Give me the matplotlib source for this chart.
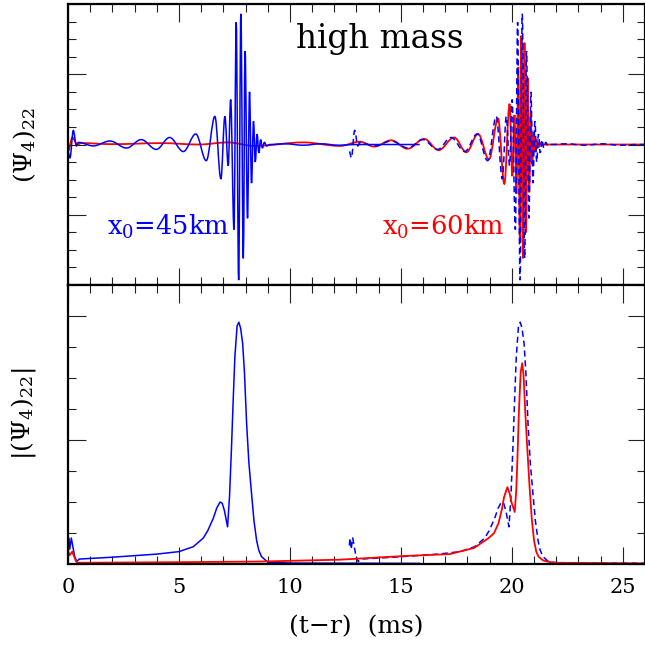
import matplotlib
matplotlib.use("Agg")
import matplotlib.pyplot as plt
from matplotlib.path import Path
from matplotlib.patches import PathPatch
from matplotlib.ticker import MultipleLocator

plt.rcParams['font.family'] = ['DejaVu Serif']
plt.rcParams['mathtext.fontset'] = 'dejavuserif'

# top panel: extrema of (Psi4)_22 (time in ms, value)
blue_t = [0.0, 0.09, 0.24, 0.38, 0.47, 1.14, 1.89, 2.64, 3.30, 3.98, 4.58, 5.20, 5.76,
          6.23, 6.62, 6.89, 7.07, 7.22, 7.33, 7.48, 7.58, 7.69, 7.79, 7.90, 7.98, 8.09,
          8.18, 8.27, 8.36, 8.44, 8.52, 8.60, 8.68, 8.76, 8.85, 8.95, 9.1, 9.8, 10.6,
          11.4, 12.2, 13.0, 15.85]
blue_y = [-0.10, -0.19, 0.20, -0.02, 0.03, -0.02, 0.05, -0.05, 0.07, -0.07, 0.10, -0.10, 0.15,
          -0.23, 0.40, -0.49, 0.40, -0.30, 0.64, -1.21, 1.74, -1.93, 1.86, -1.62, 1.33, -1.05,
          0.75, -0.55, 0.33, -0.25, 0.15, -0.12, 0.07, -0.05, 0.03, -0.02, 0.0, 0.01, -0.01,
          0.01, -0.01, 0.0, 0.0]

red_t = [0.0, 0.2, 0.42, 0.6, 2.0, 4.2, 5.9, 7.2, 8.4, 10.6, 12.25, 13.15, 13.8, 14.56,
         15.3, 16.05, 16.7, 17.4, 17.95, 18.48, 18.97, 19.38, 19.66, 19.90, 20.02, 20.12,
         20.21, 20.29, 20.36, 20.43, 20.50, 20.57, 20.64, 20.71, 20.78, 20.85, 20.92, 20.99,
         21.06, 21.13, 21.2, 21.28, 21.36, 21.5, 26.0]
red_y = [-0.10, 0.10, 0.0, 0.02, 0.005, 0.02, 0.0, 0.03, -0.02, 0.03, -0.02, 0.04, -0.03, 0.06,
         -0.06, 0.08, -0.08, 0.10, -0.11, 0.15, -0.21, 0.37, -0.56, 0.58, -0.45, 0.42,
         -0.70, 1.10, -1.40, 1.55, -1.62, 1.45, -1.25, 0.95, -0.68, 0.45, -0.28, 0.18,
         -0.11, 0.07, -0.04, 0.02, -0.01, 0.0, 0.0]

# bottom panel: amplitude |(Psi4)_22|
blue_amp_t = [0.0, 0.03, 0.08, 0.15, 0.30, 0.40, 0.50, 2.0, 4.0, 5.0, 5.65, 6.1, 6.3, 6.55,
              6.7, 6.85, 6.95, 7.05, 7.19, 7.28, 7.37, 7.45, 7.52, 7.62, 7.70, 7.78, 7.87,
              7.95, 8.05, 8.15, 8.27, 8.38, 8.5, 8.6, 8.72, 9.0, 10.0, 15.85]
blue_amp = [0.15, 0.21, 0.12, 0.21, 0.06, 0.02, 0.04, 0.055, 0.08, 0.10, 0.14, 0.21, 0.27, 0.37,
            0.45, 0.50, 0.49, 0.43, 0.30, 0.55, 0.95, 1.35, 1.67, 1.92, 1.95, 1.90, 1.78,
            1.55, 1.13, 0.82, 0.57, 0.35, 0.19, 0.11, 0.06, 0.015, 0.008, 0.005]

red_amp_t = [0.0, 0.07, 0.19, 0.37, 0.45, 5.0, 8.6, 12.25, 15.2, 17.2, 18.3, 18.96, 19.2,
             19.4, 19.55, 19.65, 19.8, 19.9, 19.98, 20.13, 20.2, 20.25, 20.32, 20.4, 20.47,
             20.53, 20.6, 20.7, 20.8, 20.9, 21.0, 21.1, 21.2, 21.4, 21.6, 21.9, 26.0]
red_amp = [0.11, 0.07, 0.10, 0.02, 0.01, 0.015, 0.02, 0.035, 0.065, 0.08, 0.13, 0.21, 0.25,
           0.33, 0.44, 0.54, 0.62, 0.57, 0.50, 0.42, 0.60, 0.84, 1.24, 1.55, 1.62,
           1.52, 1.24, 0.92, 0.62, 0.36, 0.19, 0.10, 0.06, 0.03, 0.02, 0.01, 0.005]

shift = 12.68  # the dashed curve is the x0=45km run moved to line up with x0=60km


def wave_path(ts, ys, k=0.36):
    # smooth curve through the extrema: flat tangents at each peak
    verts = [(ts[0], ys[0])]
    codes = [Path.MOVETO]
    for i in range(1, len(ts)):
        dt = ts[i] - ts[i - 1]
        verts += [(ts[i - 1] + k * dt, ys[i - 1]), (ts[i] - k * dt, ys[i]), (ts[i], ys[i])]
        codes += [Path.CURVE4] * 3
    return Path(verts, codes)


fig = plt.figure(figsize=(6.45, 6.56), dpi=100)
ax1 = fig.add_axes([0.1054, 0.5655, 0.8946, 0.4284])
ax2 = fig.add_axes([0.1054, 0.1402, 0.8946, 0.4253])

ax1.add_patch(PathPatch(wave_path(red_t, red_y), fill=False, edgecolor='red', lw=1.3))
ax1.add_patch(PathPatch(wave_path(blue_t, blue_y), fill=False, edgecolor='blue', lw=1.1))
ax1.add_patch(PathPatch(wave_path([t + shift for t in blue_t], blue_y), fill=False,
                        edgecolor='blue', lw=1.1, linestyle=(0, (4, 2.5))))

ax2.plot(blue_amp_t, blue_amp, color='blue', lw=1.1)
ax2.plot([t + shift for t in blue_amp_t], blue_amp, color='blue', lw=1.1, dashes=(4, 2.5))
ax2.plot(red_amp_t, red_amp, color='red', lw=1.3)

ax1.set_xlim(0, 26.0)
ax1.set_ylim(-2, 2)
ax2.set_xlim(0, 26.0)
ax2.set_ylim(0, 2.25)

for ax in (ax1, ax2):
    ax.xaxis.set_major_locator(MultipleLocator(5))
    ax.xaxis.set_minor_locator(MultipleLocator(1))
    ax.yaxis.set_major_locator(MultipleLocator(1))
    ax.yaxis.set_minor_locator(MultipleLocator(0.25))
    ax.tick_params(which='both', direction='in', top=True, right=True, width=0.8,
                   color='#222222')
    ax.tick_params(which='major', length=12.6)
    ax.tick_params(which='minor', length=6.1)
    ax.tick_params(labelleft=False)
    for s in ax.spines.values():
        s.set_linewidth(1.6)

ax1.tick_params(labelbottom=False)
ax2.tick_params(axis='x', labelsize=15, pad=10)

ax1.set_ylabel(r'$(\Psi_4)_{22}$', fontsize=18)
ax1.yaxis.set_label_coords(-0.052, 0.5)
ax2.set_ylabel(r'$|(\Psi_4)_{22}|$', fontsize=18)
ax2.yaxis.set_label_coords(-0.052, 0.54)
ax2.set_xlabel('(t\u2212r)  (ms)', fontsize=18, labelpad=13)

ax1.text(14.05, 1.5, 'high mass', fontsize=23.5, ha='center', va='center')
ax1.text(4.54, -1.17, r'x$_0$=45km', fontsize=18.5, color='blue', ha='center', va='center')
ax1.text(16.9, -1.17, r'x$_0$=60km', fontsize=18.5, color='red', ha='center', va='center')

fig.savefig('out.png', dpi=100)
